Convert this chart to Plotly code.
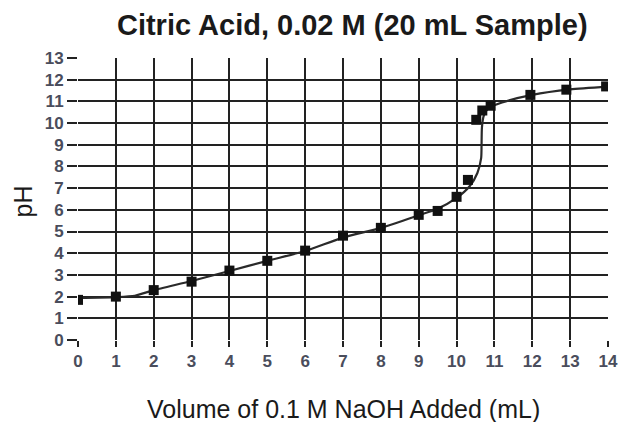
import plotly.graph_objects as go

# Measured titration points (volume NaOH in mL, pH)
vol_points = [0, 1, 2, 3, 4, 5, 6, 7, 8, 9, 9.5, 10.0, 10.3, 10.52, 10.68, 10.9, 11.95, 12.9, 13.95]
ph_points = [1.85, 2.0, 2.3, 2.69, 3.2, 3.65, 4.12, 4.81, 5.17, 5.77, 5.95, 6.6, 7.38, 10.15, 10.58, 10.8, 11.3, 11.54, 11.69]

# Hand-drawn smooth titration curve
vol_curve = [0, 1.0, 1.5, 2, 3, 4, 5, 6, 7, 8, 9, 9.5, 10.0, 10.35, 10.55, 10.65, 10.66, 10.67, 10.72, 10.85, 11.2, 12, 13, 14]
ph_curve = [1.94, 1.98, 2.04, 2.3, 2.72, 3.18, 3.65, 4.1, 4.72, 5.17, 5.75, 6.05, 6.55, 7.1, 7.7, 8.4, 9.0, 9.8, 10.35, 10.7, 10.95, 11.3, 11.55, 11.68]

x_ticks = list(range(0, 15))
y_ticks = list(range(0, 14))

TITLE = "Citric Acid, 0.02 M (20 mL Sample)"
X_LABEL = "Volume of 0.1 M NaOH Added (mL)"
Y_LABEL = "pH"

fig = go.Figure()
fig.add_trace(go.Scatter(
    x=vol_curve, y=ph_curve, mode="lines",
    line=dict(color="#2a2a2a", width=2.2, shape="spline", smoothing=0.6),
    hoverinfo="skip", showlegend=False,
))
fig.add_trace(go.Scatter(
    x=vol_points, y=ph_points, mode="markers",
    marker=dict(symbol="square", size=10, color="#111111"),
    showlegend=False,
))

tick_font = dict(family="Liberation Sans Narrow, Liberation Sans", size=17, color="#4a4d5c", weight=600)
label_font = dict(family="Liberation Sans, Arial", size=25, color="#1a1a1a")

fig.update_layout(
    width=618, height=422,
    margin=dict(l=78, r=10, t=58, b=82),
    paper_bgcolor="white", plot_bgcolor="white",
    title=dict(
        text=f"<b>{TITLE}</b>",
        x=0.570, xanchor="center", y=0.94, yanchor="middle",
        font=dict(family="Liberation Sans, Arial", size=29, color="#1a1a1a"),
    ),
    xaxis=dict(
        range=[0, 14], tickmode="array", tickvals=x_ticks, ticktext=[str(v) for v in x_ticks],
        showgrid=True, gridcolor="#222222", gridwidth=1.5,
        zeroline=False, showline=False, automargin=False,
        ticks="outside", ticklen=6, tickwidth=1.5, tickcolor="#222222",
        tickfont=tick_font,
    ),
    yaxis=dict(
        range=[0, 13], tickmode="array", tickvals=y_ticks, ticktext=[str(v) for v in y_ticks],
        showgrid=True, gridcolor="#222222", gridwidth=1.5,
        zeroline=False, showline=False, automargin=False,
        ticks="outside", ticklen=10, tickwidth=1.5, tickcolor="#222222",
        tickfont=tick_font,
    ),
    annotations=[
        dict(text=X_LABEL, xref="paper", yref="paper", x=0.5, y=-0.245,
             xanchor="center", yanchor="middle", showarrow=False, font=label_font),
        dict(text=Y_LABEL, xref="paper", yref="paper", x=-0.1046, y=0.49,
             xanchor="center", yanchor="middle", textangle=-90, showarrow=False, font=label_font),
    ],
)

fig.write_html("out.html")
